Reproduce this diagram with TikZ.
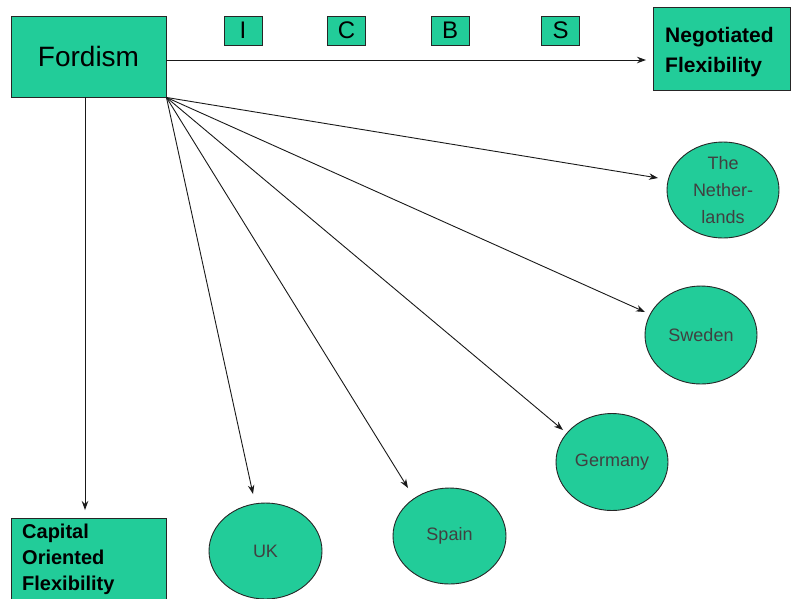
\documentclass[tikz,border=0pt]{standalone}
\usepackage{fontspec}
\setmainfont{Liberation Sans}
\usetikzlibrary{shapes.geometric,arrows.meta,calc}
\definecolor{tealfill}{RGB}{34,204,153}
\begin{document}
\begin{tikzpicture}[x=1pt,y=-1pt,
  box/.style={draw=black!85, line width=0.9pt, fill=tealfill, inner sep=0pt},
  oval/.style={ellipse, draw=black!85, line width=0.9pt, fill=tealfill, inner sep=0pt,
    font=\fontsize{18}{27}\selectfont, text=black!75, align=center},
  arr/.style={draw=black!90, line width=0.9pt, -{Stealth[length=9pt,width=6.5pt]}},
  lbl/.style={anchor=north west, inner sep=0pt, align=left}]
\useasboundingbox (0,0) rectangle (791,598);
\clip (0,0) rectangle (791,598);

% boxes
\node[box, minimum width=155pt, minimum height=81pt, font=\fontsize{28}{34}\selectfont] (fordism) at (88.5,56.5) {Fordism};
\node[box, minimum width=38pt, minimum height=29pt, font=\fontsize{24}{28}\selectfont] (bI) at (243,30.5) {I};
\node[box, minimum width=38pt, minimum height=29pt, font=\fontsize{24}{28}\selectfont] (bC) at (346.5,30.5) {C};
\node[box, minimum width=38pt, minimum height=29pt, font=\fontsize{24}{28}\selectfont] (bB) at (450,30.5) {B};
\node[box, minimum width=38pt, minimum height=29pt, font=\fontsize{24}{28}\selectfont] (bS) at (560.5,30.5) {S};

\node[box, minimum width=137pt, minimum height=83pt] (neg) at (721.5,48.5) {};
\node[lbl, font=\bfseries\fontsize{21}{30}\selectfont] (negtext) at (665,27) {Negotiated\\Flexibility};

\node[box, anchor=north west, minimum width=155pt, minimum height=100pt] (cap) at (11,518) {};
\node[lbl, font=\bfseries\fontsize{20}{26}\selectfont] (captext) at (22,524) {Capital\\Oriented\\Flexibility};

% ellipses
\node[oval, minimum width=112pt, minimum height=96pt] (neth) at (723,190) {The\\Nether-\\lands};
\node[oval, minimum width=112pt, minimum height=98pt] (sweden) at (701,335) {Sweden};
\node[oval, minimum width=112pt, minimum height=97pt] (germany) at (612,462) {Germany};
\node[oval, minimum width=113pt, minimum height=96pt] (spain) at (449.5,536) {Spain};
\node[oval, minimum width=113pt, minimum height=96pt] (uk) at (265.5,551) {UK};

% arrow tips
\coordinate (tNeg) at (646,60);
\coordinate (tCap) at (85,510);
\coordinate (tNeth) at (658,178);
\coordinate (tSwe) at (645,312);
\coordinate (tGer) at (563,430);
\coordinate (tSpa) at (408,488);
\coordinate (tUK) at (253,494);

% connectors
\draw[arr] ($(fordism.east)+(0,3.5)$) -- (tNeg);
\draw[arr] ($(fordism.south)+(-3.5,0)$) -- (tCap);
\draw[arr] (fordism.south east) -- (tNeth);
\draw[arr] (fordism.south east) -- (tSwe);
\draw[arr] (fordism.south east) -- (tGer);
\draw[arr] (fordism.south east) -- (tSpa);
\draw[arr] (fordism.south east) -- (tUK);
\end{tikzpicture}
\end{document}
